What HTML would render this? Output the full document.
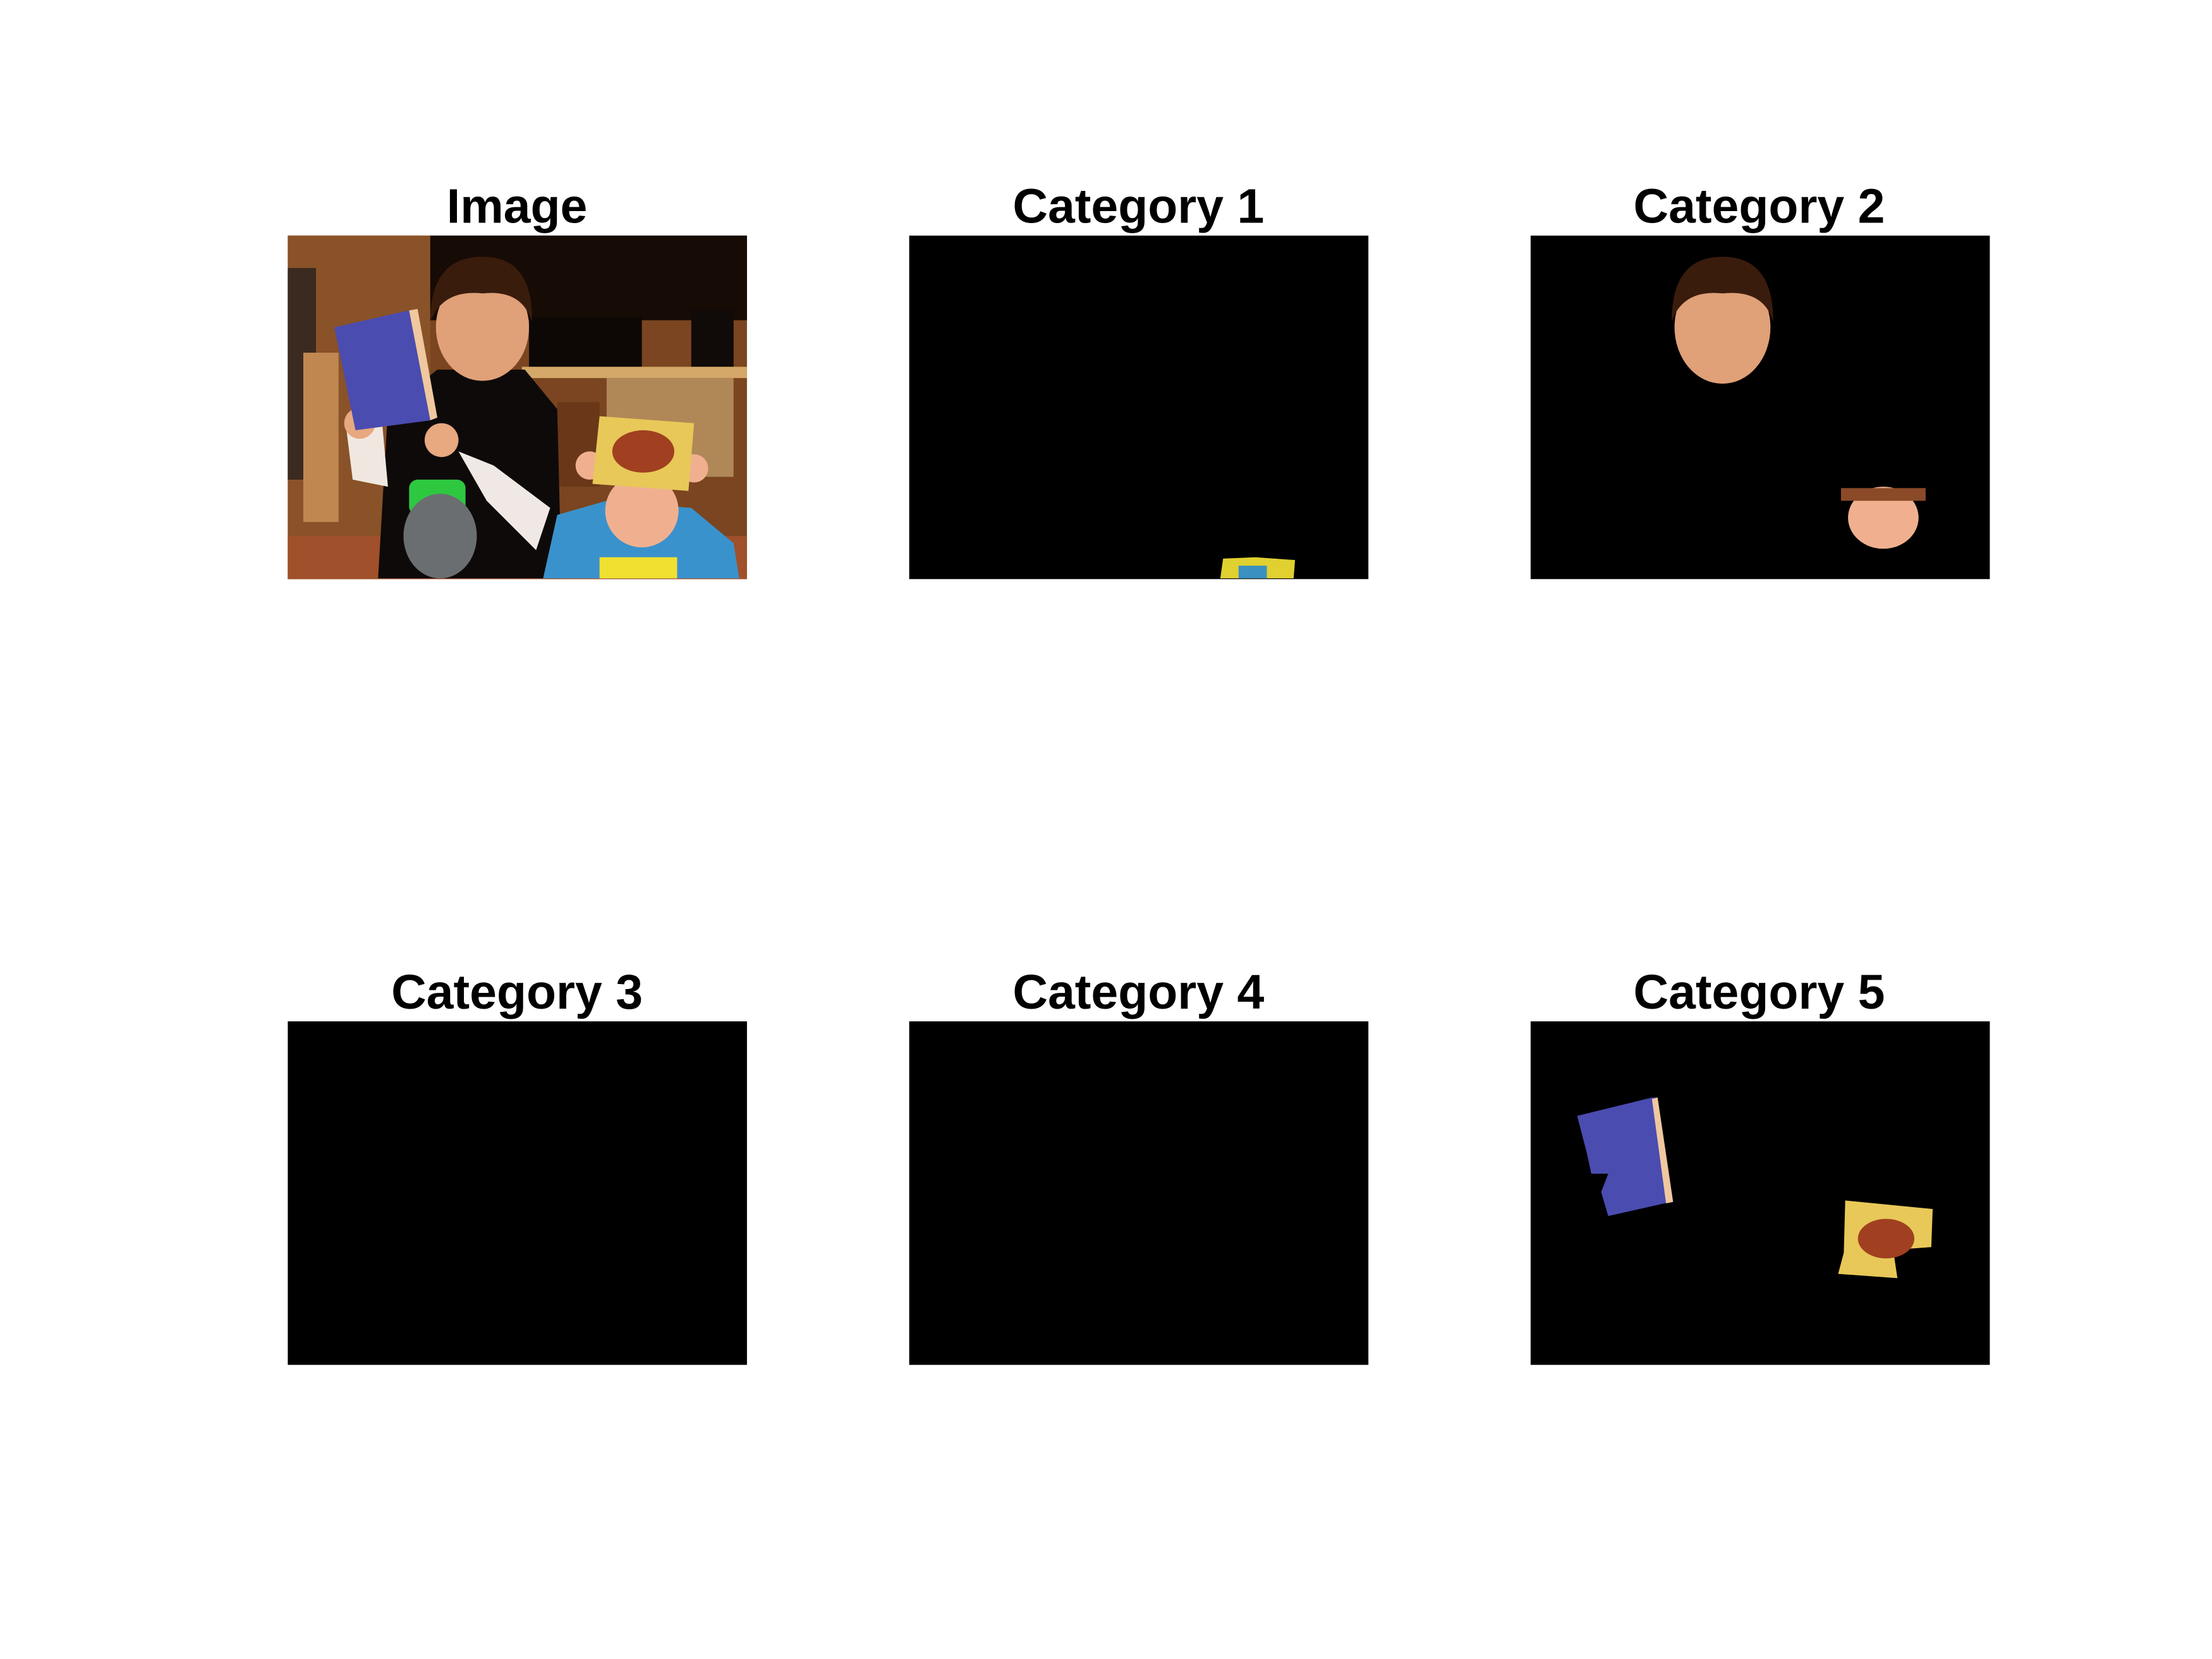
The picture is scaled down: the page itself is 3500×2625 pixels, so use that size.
<!DOCTYPE html>
<html><head><meta charset="utf-8"><style>
html,body{margin:0;padding:0;background:#fff;}
svg{display:block;}
text{font-family:"Liberation Sans",Arial,sans-serif;font-weight:bold;fill:#000;}
</style></head><body>
<svg width="3500" height="2625" viewBox="0 0 1568 1176" preserveAspectRatio="none" xmlns="http://www.w3.org/2000/svg">
<rect width="1568" height="1176" fill="#fff"/>

<!-- Panel 1: Image -->
<g>
<text x="366.5" y="158" font-size="34.5" text-anchor="middle">Image</text>
<rect x="204" y="167" width="325.5" height="243.5" fill="#7a4520"/>
<rect x="204" y="167" width="101" height="243.5" fill="#8a5228"/>
<rect x="204" y="380" width="325.5" height="30.5" fill="#a0502a"/>
<rect x="305" y="167" width="224.5" height="60" fill="#170b06"/>
<rect x="375" y="225" width="80" height="35" fill="#0d0806"/>
<rect x="490" y="220" width="30" height="40" fill="#100a08"/>
<rect x="370" y="260" width="159.5" height="8" fill="#d4a868"/>
<rect x="430" y="268" width="90" height="70" fill="#b08858"/>
<rect x="395" y="285" width="30" height="60" fill="#6a3818"/>
<rect x="204" y="190" width="20" height="150" fill="#3a2a20"/>
<rect x="215" y="250" width="25" height="120" fill="#c08850"/>
<polygon points="268,410 275,290 310,262 372,262 395,290 398,410" fill="#0e0a0a"/>
<polygon points="245,300 270,290 275,345 250,340" fill="#f0e8e0"/>
<polygon points="325,320 350,330 390,360 380,390 345,355" fill="#f0e8e4"/>
<rect x="290" y="340" width="40" height="25" rx="6" fill="#2ec840"/>
<ellipse cx="312" cy="380" rx="26" ry="30" fill="#6a6e70"/>
<ellipse cx="342" cy="232" rx="33" ry="38" fill="#e0a078"/>
<path d="M305,228 Q305,182 342,182 Q378,182 377,228 Q370,205 342,208 Q314,205 305,228Z" fill="#3a1c0c"/>
<circle cx="255" cy="300" r="11" fill="#e8a880"/>
<circle cx="313" cy="312" r="12" fill="#e8a880"/>
<polygon points="237,232 290,220 305,298 252,305" fill="#4a4cb0"/>
<polygon points="290,220 296,219 310,296 305,298" fill="#f0c8a0"/>
<polygon points="385,410 395,365 430,355 490,360 520,385 524,410" fill="#3a92cc"/>
<rect x="425" y="395" width="55" height="15" fill="#f0e030"/>
<circle cx="455" cy="362" r="26" fill="#f0b090"/>
<circle cx="418" cy="330" r="10" fill="#f0b090"/>
<circle cx="492" cy="332" r="10" fill="#f0b090"/>
<polygon points="425,295 492,300 488,348 420,343" fill="#e8c858"/>
<ellipse cx="456" cy="320" rx="22" ry="15" fill="#a04020"/>
</g>

<!-- Panel 2: Category 1 -->
<g>
<text x="807" y="158" font-size="34.5" text-anchor="middle">Category 1</text>
<rect x="644.5" y="167" width="325.5" height="243.5" fill="#000"/>
<polygon points="865,410 867,396 890,395 918,397 917,410" fill="#e0d030"/>
<rect x="878" y="401" width="20" height="9" fill="#3a90c0"/>
</g>

<!-- Panel 3: Category 2 -->
<g>
<text x="1247" y="158" font-size="34.5" text-anchor="middle">Category 2</text>
<rect x="1085" y="167" width="325.5" height="243.5" fill="#000"/>
<ellipse cx="1221" cy="232" rx="34" ry="40" fill="#e0a078"/>
<path d="M1185,228 Q1185,182 1221,182 Q1257,182 1257,228 Q1250,205 1221,208 Q1193,205 1185,228Z" fill="#3a1c0c"/>
<ellipse cx="1335" cy="367" rx="25" ry="22" fill="#f0b090"/>
<rect x="1305" y="346" width="60" height="9" fill="#8a4a28"/>
</g>

<!-- Panel 4: Category 3 -->
<g>
<text x="366.5" y="715" font-size="34.5" text-anchor="middle">Category 3</text>
<rect x="204" y="724" width="325.5" height="243.5" fill="#000"/>
</g>

<!-- Panel 5: Category 4 -->
<g>
<text x="807" y="715" font-size="34.5" text-anchor="middle">Category 4</text>
<rect x="644.5" y="724" width="325.5" height="243.5" fill="#000"/>
</g>

<!-- Panel 6: Category 5 -->
<g>
<text x="1247" y="715" font-size="34.5" text-anchor="middle">Category 5</text>
<rect x="1085" y="724" width="325.5" height="243.5" fill="#000"/>
<polygon points="1118,791 1171,778 1175,778 1186,852 1180,853 1140,862 1135,845 1140,832 1128,832 1125,818" fill="#4a4cb0"/>
<polygon points="1171,779 1175,778 1186,852 1181,853" fill="#f0c8a0"/>
<polygon points="1308,851 1370,857 1369,884 1342,886 1345,906 1303,903 1307,888" fill="#e8c858"/>
<ellipse cx="1337" cy="878" rx="20" ry="14" fill="#a04020"/>
</g>
</svg>
</body></html>
